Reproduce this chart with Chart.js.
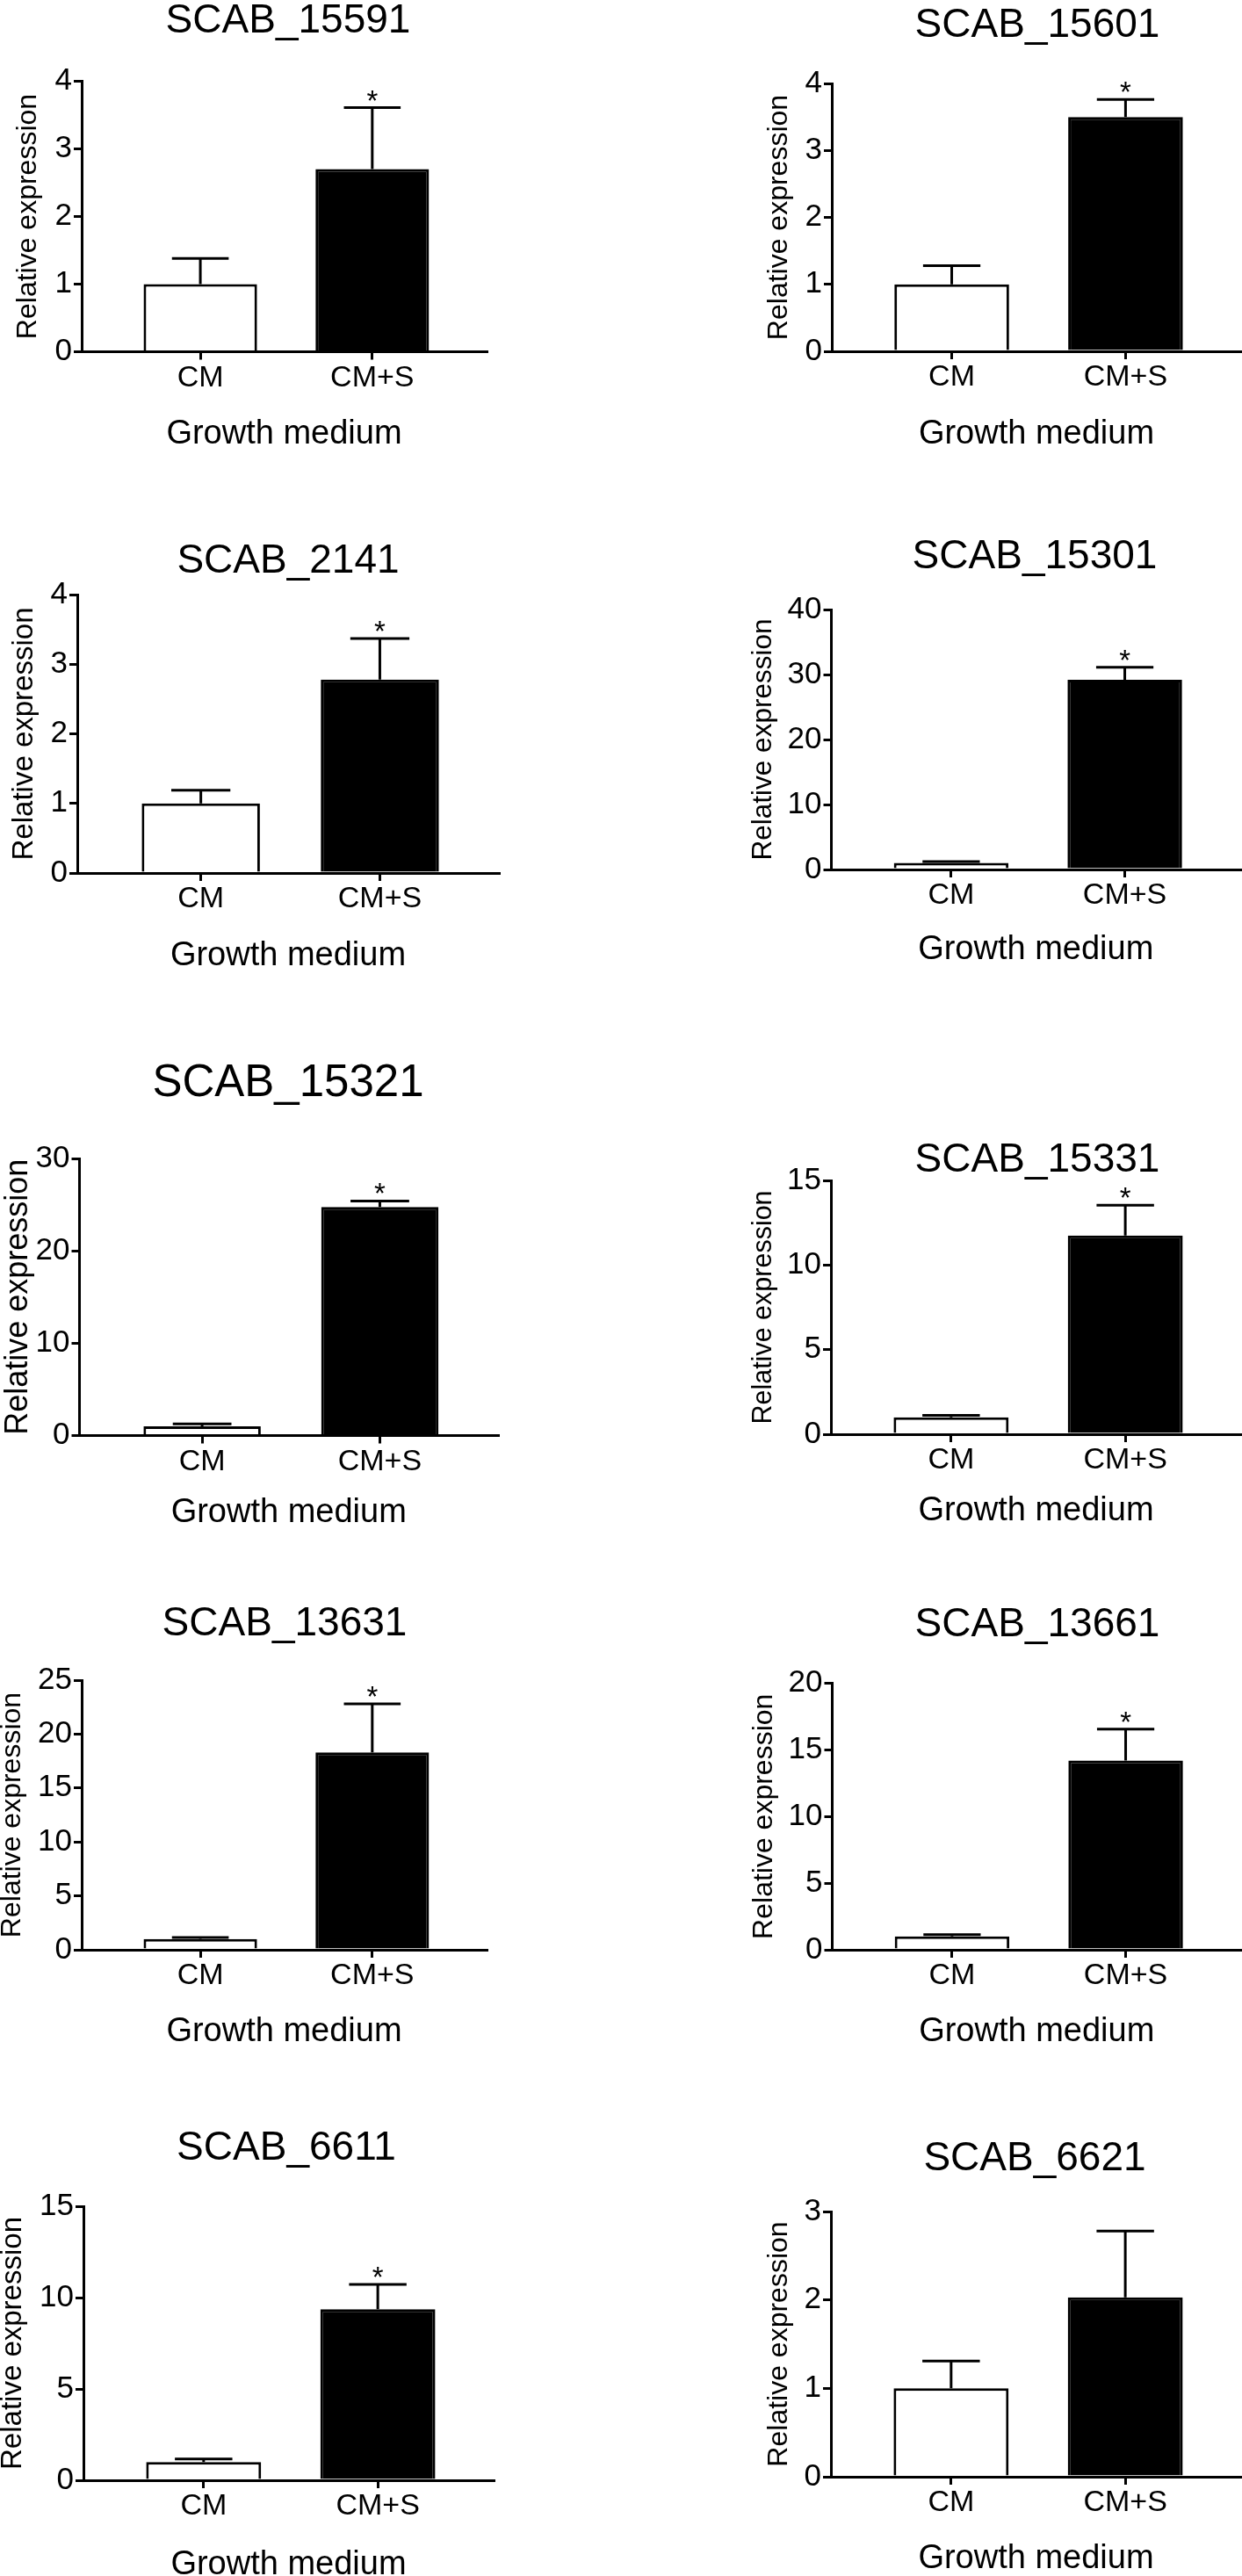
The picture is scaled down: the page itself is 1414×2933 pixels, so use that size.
<!doctype html>
<html lang="en">

<head>
    <meta charset="UTF-8" />
    <title>Relative expression - CM vs CM+S</title>
    <script src="https://cdn.jsdelivr.net/npm/chart.js"></script>
    <style>
        html, body { margin: 0; padding: 0; background: #fff; overflow: hidden; }
        #figure { position: relative; width: 1414px; height: 2933px; overflow: hidden; }
        #figure canvas { position: absolute; }
    </style>
</head>

<body>
    <div id="figure"></div>

    <script>
        // ---- data ----
        const genes = ["SCAB_15591", "SCAB_15601", "SCAB_2141", "SCAB_15301", "SCAB_15321",
            "SCAB_15331", "SCAB_13631", "SCAB_13661", "SCAB_6611", "SCAB_6621"];
        const categories = ["CM", "CM+S"];
        const cmMean = [1.0, 1.0, 1.0, 1.0, 1.0, 1.0, 1.0, 1.0, 1.0, 1.0];
        const cmSem = [0.38, 0.28, 0.19, 0.2, 0.25, 0.11, 0.15, 0.14, 0.17, 0.31];
        const cmsMean = [2.70, 3.50, 2.78, 29.2, 24.75, 11.74, 18.3, 14.2, 9.36, 2.03];
        const cmsSem = [0.91, 0.26, 0.59, 1.9, 0.65, 1.8, 4.5, 2.36, 1.36, 0.75];
        const significant = [true, true, true, true, true, true, true, true, true, false];
        const yMax = [4, 4, 4, 40, 30, 15, 25, 20, 15, 3];
        const yStep = [1, 1, 1, 10, 10, 5, 5, 5, 5, 1];
        const xTitle = "Growth medium";
        const yTitle = "Relative expression";

        // ---- page layout (pixels) ----
        const COL_W = 707;
        const boxes = [
            { col: 0, top: 0, axisX: 93, axisEnd: 554, yTop: 92.5, yZero: 400, titleX: 328, titleBase: 37, titleSize: 46, labelX: 32.5, labelSize: 32, gm: 94.5 },
            { col: 1, top: 0, axisX: 947, axisEnd: 1413, yTop: 95, yZero: 400, titleX: 1181, titleBase: 42, titleSize: 46, labelX: 887.5, labelSize: 32, gm: 95 },
            { col: 0, top: 580, axisX: 88, axisEnd: 568, yTop: 677, yZero: 994, titleX: 328, titleBase: 652, titleSize: 46, labelX: 28, labelSize: 33, gm: 95 },
            { col: 1, top: 580, axisX: 946.5, axisEnd: 1412, yTop: 694, yZero: 989.5, titleX: 1178, titleBase: 647, titleSize: 46, labelX: 869.5, labelSize: 31.5, gm: 92 },
            { col: 0, top: 1180, axisX: 90.5, axisEnd: 567, yTop: 1319, yZero: 1634.5, titleX: 328, titleBase: 1248, titleSize: 51, labelX: 21.5, labelSize: 36, gm: 88.5 },
            { col: 1, top: 1180, axisX: 946, axisEnd: 1413, yTop: 1344, yZero: 1633, titleX: 1181, titleBase: 1334, titleSize: 46, labelX: 870, labelSize: 30.5, gm: 88 },
            { col: 0, top: 1790, axisX: 93, axisEnd: 554, yTop: 1913, yZero: 2219.5, titleX: 324, titleBase: 1862, titleSize: 46, labelX: 14.5, labelSize: 32, gm: 94 },
            { col: 1, top: 1790, axisX: 947.5, axisEnd: 1413, yTop: 1916.5, yZero: 2219.5, titleX: 1181, titleBase: 1863, titleSize: 46, labelX: 870, labelSize: 32, gm: 94 },
            { col: 0, top: 2373, axisX: 95, axisEnd: 562, yTop: 2512, yZero: 2824, titleX: 326, titleBase: 2459, titleSize: 46, labelX: 14.5, labelSize: 33, gm: 97 },
            { col: 1, top: 2373, axisX: 946, axisEnd: 1413, yTop: 2518, yZero: 2820, titleX: 1178, titleBase: 2471, titleSize: 46, labelX: 887.5, labelSize: 32, gm: 94 },
        ];
        const X_MIN = 0.31, X_MAX = 2.665;   // x range so bars sit where GraphPad put them
        const GM_SIZE = 38;

        const FONT = '"Liberation Sans", Arial, Helvetica, sans-serif';
        Chart.defaults.font.family = FONT;
        Chart.defaults.color = "#000";

        // error bars (upper only) + significance star
        const errorBars = {
            id: "errorBars",
            afterDatasetsDraw(chart, args, opts) {
                const ctx = chart.ctx;
                const yScale = chart.scales.y;
                const ds = chart.data.datasets[0];
                chart.getDatasetMeta(0).data.forEach((bar, k) => {
                    const { x, y, width } = bar.getProps(["x", "y", "width"], true);
                    const capY = yScale.getPixelForValue(ds.data[k].y + opts.sem[k]);
                    ctx.save();
                    ctx.strokeStyle = "#000";
                    ctx.lineWidth = 3;
                    ctx.beginPath();
                    ctx.moveTo(x, y);
                    ctx.lineTo(x, capY);
                    ctx.moveTo(x - width / 4, capY);
                    ctx.lineTo(x + width / 4, capY);
                    ctx.stroke();
                    if (opts.stars[k]) {
                        ctx.fillStyle = "#000";
                        ctx.font = `33px ${FONT}`;
                        ctx.textAlign = "center";
                        ctx.textBaseline = "alphabetic";
                        ctx.fillText("*", x, capY + 3);
                    }
                    ctx.restore();
                });
            }
        };

        // gene name above each panel
        const panelTitle = {
            id: "panelTitle",
            afterDraw(chart, args, opts) {
                const ctx = chart.ctx;
                ctx.save();
                ctx.fillStyle = "#000";
                ctx.font = `${opts.size}px ${FONT}`;
                ctx.textAlign = "center";
                ctx.textBaseline = "alphabetic";
                ctx.fillText(opts.text, opts.x, opts.y);
                ctx.restore();
            }
        };

        const figure = document.getElementById("figure");

        genes.forEach((gene, i) => {
            const b = boxes[i];
            const left = b.col * COL_W;
            const xScaleH = b.gm + GM_SIZE / 2;
            const height = Math.ceil(b.yZero - b.top + xScaleH);

            const canvas = document.createElement("canvas");
            canvas.width = COL_W;
            canvas.height = height;
            canvas.style.left = left + "px";
            canvas.style.top = b.top + "px";
            figure.appendChild(canvas);

            const axisLine = { display: true, color: "#000", width: 3, z: 1 };
            const tickMarks = { display: true, drawOnChartArea: false, drawTicks: true, tickLength: 9, color: "#000", lineWidth: 3, offset: false };

            new Chart(canvas, {
                type: "bar",
                data: {
                    datasets: [{
                        data: [{ x: 1, y: cmMean[i] }, { x: 2, y: cmsMean[i] }],
                        backgroundColor: ["#ffffff", "#000000"],
                        borderColor: "#000000",
                        borderWidth: 3,
                        categoryPercentage: 1,
                        barPercentage: 0.66,
                    }],
                },
                options: {
                    responsive: false,
                    animation: false,
                    devicePixelRatio: 1,
                    layout: {
                        padding: { left: 0, top: b.yTop - b.top, right: left + COL_W - b.axisEnd, bottom: 0 },
                    },
                    plugins: {
                        legend: { display: false },
                        tooltip: { enabled: false },
                        errorBars: { sem: [cmSem[i], cmsSem[i]], stars: [false, significant[i]] },
                        panelTitle: { text: gene, x: b.titleX - left, y: b.titleBase - b.top, size: b.titleSize },
                    },
                    scales: {
                        x: {
                            type: "linear",
                            offset: false,
                            min: X_MIN,
                            max: X_MAX,
                            afterBuildTicks: (s) => { s.ticks = categories.map((c, k) => ({ value: k + 1 })); },
                            afterFit: (s) => { s.height = xScaleH; },
                            ticks: {
                                callback: (v, idx) => categories[idx],
                                autoSkip: false, maxRotation: 0, padding: 4,
                                font: { size: 34, lineHeight: 1 },
                            },
                            grid: tickMarks,
                            border: axisLine,
                            title: {
                                display: true, text: xTitle,
                                font: { size: GM_SIZE, lineHeight: 1 },
                                padding: { top: 0, bottom: 0 },
                            },
                        },
                        y: {
                            min: 0,
                            max: yMax[i],
                            afterFit: (s) => { s.width = b.axisX - left; },
                            ticks: { stepSize: yStep[i], padding: 2, font: { size: 35, lineHeight: 1 } },
                            grid: tickMarks,
                            border: axisLine,
                            title: {
                                display: true, text: yTitle,
                                font: { size: b.labelSize, lineHeight: 1 },
                                padding: { top: b.labelX - left - b.labelSize / 2, bottom: 0 },
                            },
                        },
                    },
                },
                plugins: [errorBars, panelTitle],
            });
        });
    </script>
</body>

</html>
